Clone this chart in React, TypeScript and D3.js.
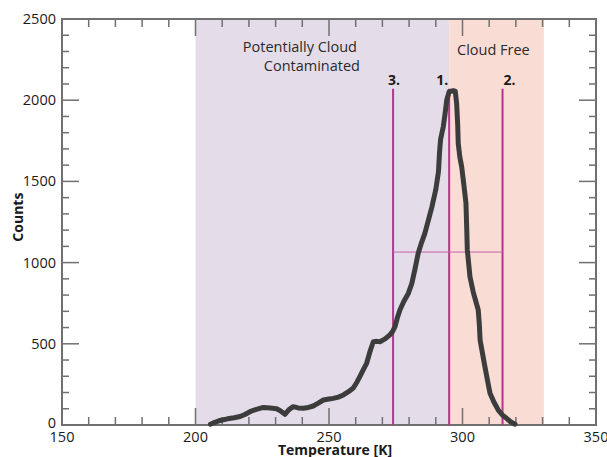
import React from "react";
import * as d3 from "d3";

const temps = [205.6, 207, 209.2, 212, 214.5, 216.7, 218.5, 220.4, 222.5, 225.4, 228, 230.4, 232, 233.5, 235, 236.6, 238.5, 240.4, 242.3, 244.1, 246, 247.9, 250, 251.6, 253.5, 255.4, 257.3, 259.1, 260.5, 261.6, 263, 264.1, 265.5, 266.6, 268, 269.1, 271, 272.8, 273.8, 274.7, 275.6, 276.6, 278, 279.7, 281, 282.2, 283.4, 284.6, 285.9, 287.2, 288.5, 290, 291, 291.4, 291.8, 292.8, 293.5, 294.1, 295, 296.5, 297.3, 297.8, 298.2, 298.4, 299, 299.7, 300.5, 301.3, 301.6, 301.8, 302.8, 304, 305.9, 306.3, 306.6, 307.5, 308.4, 309.3, 310.3, 311.8, 313.4, 315, 316.5, 318, 319.7];
const counts = [5, 15, 28, 38, 45, 52, 65, 82, 95, 108, 104, 100, 85, 66, 95, 113, 105, 103, 108, 117, 135, 154, 160, 164, 172, 185, 205, 228, 265, 300, 345, 380, 460, 513, 515, 513, 530, 555, 575, 605, 660, 710, 760, 810, 870, 960, 1057, 1120, 1180, 1260, 1340, 1450, 1560, 1680, 1760, 1837, 1920, 2001, 2052, 2058, 2055, 1980, 1850, 1735, 1650, 1590, 1480, 1365, 1200, 1078, 913, 820, 708, 620, 523, 440, 359, 280, 195, 140, 92, 60, 41, 20, 5];

const xTicks = [150, 200, 250, 300, 350];
const yTicks = [0, 500, 1000, 1500, 2000, 2500];
const regionNames = ["Potentially Cloud", "Contaminated", "Cloud Free"];
const regionBounds = [200, 295, 330.5];
const markerTemps = [295, 315, 274];
const markerLabels = ["1.", "2.", "3."];
const markerTop = 2070;
const crossCount = 1065;

export default function App() {
  const W = 607, H = 457;
  const x = d3.scaleLinear().domain([150, 350]).range([62, 596]);
  const y = d3.scaleLinear().domain([0, 2500]).range([425, 19]);
  const axisColor = "#707070";
  const font = "'Open Sans', sans-serif";
  const minorX = d3.range(150, 351, 10);
  const minorY = d3.range(0, 2501, 100);
  const line = d3.line<number>().x((_, i) => x(temps[i])).y((c) => y(c));
  const magenta = "#b8338f";

  return (
    <svg width={W} height={H} style={{ position: "absolute", left: 0, top: 0 }}>
      <rect x={0} y={0} width={W} height={H} fill="#fff" />
      <rect x={x(regionBounds[0])} y={y(2500)} width={x(regionBounds[1]) - x(regionBounds[0])} height={y(0) - y(2500)} fill="#e5dcea" />
      <rect x={x(regionBounds[1])} y={y(2500)} width={x(regionBounds[2]) - x(regionBounds[1])} height={y(0) - y(2500)} fill="#f9ddd4" />
      {minorX.map((v) => {
        const major = v % 50 === 0;
        const len = major ? 17 : 8;
        return (
          <g key={"xt" + v} stroke={axisColor} strokeWidth={1.5}>
            <line x1={x(v)} x2={x(v)} y1={y(0)} y2={y(0) - len} />
            <line x1={x(v)} x2={x(v)} y1={y(2500)} y2={y(2500) + len} />
          </g>
        );
      })}
      {minorY.map((v) => {
        const major = v % 500 === 0;
        const len = major ? 17 : 7;
        return (
          <g key={"yt" + v} stroke={axisColor} strokeWidth={1.5}>
            <line x1={x(150)} x2={x(150) + len} y1={y(v)} y2={y(v)} />
            <line x1={x(350)} x2={x(350) - len} y1={y(v)} y2={y(v)} />
          </g>
        );
      })}
      <rect x={x(150)} y={y(2500)} width={x(350) - x(150)} height={y(0) - y(2500)} fill="none" stroke={axisColor} strokeWidth={2} />
      <text x={357} y={52} textAnchor="end" fontFamily={font} fontSize={14.5} fill="#2a2a2a">{regionNames[0]}</text>
      <text x={360} y={71} textAnchor="end" fontFamily={font} fontSize={14.5} fill="#2a2a2a">{regionNames[1]}</text>
      <text x={457} y={55} fontFamily={font} fontSize={14.5} fill="#2a2a2a">{regionNames[2]}</text>
      {markerTemps.map((t) => (
        <line key={"m" + t} x1={x(t)} x2={x(t)} y1={y(markerTop)} y2={y(0)} stroke={magenta} strokeWidth={2} />
      ))}
      <line x1={x(markerTemps[2])} x2={x(markerTemps[1])} y1={y(crossCount)} y2={y(crossCount)} stroke="#c560a8" strokeWidth={1} />
      {markerTemps.map((t, i) => (
        <text key={"ml" + i} x={x(t) + (i === 0 ? -7 : i === 1 ? 7 : 1)} y={y(markerTop) - 4} textAnchor="middle" fontFamily={font} fontSize={14} fontWeight={700} fill="#1a1a1a">{markerLabels[i]}</text>
      ))}
      <path d={line(counts) || ""} fill="none" stroke="#3c3c3c" strokeWidth={5} strokeLinejoin="round" strokeLinecap="round" />
      {xTicks.map((v) => (
        <text key={"xl" + v} x={x(v)} y={442} textAnchor="middle" fontFamily={font} fontSize={14.5} fill="#1a1a1a">{v}</text>
      ))}
      {yTicks.map((v) => (
        <text key={"yl" + v} x={56} y={v === 0 ? y(v) + 3 : y(v) + 5} textAnchor="end" fontFamily={font} fontSize={14.5} fill="#1a1a1a">{v}</text>
      ))}
      <text x={335} y={455} textAnchor="middle" fontFamily={font} fontSize={14} fontWeight={700} fill="#1a1a1a">Temperature [K]</text>
      <text transform={`translate(23,${y(1280)}) rotate(-90)`} textAnchor="middle" fontFamily={font} fontSize={14} fontWeight={700} fill="#1a1a1a">Counts</text>
    </svg>
  );
}
